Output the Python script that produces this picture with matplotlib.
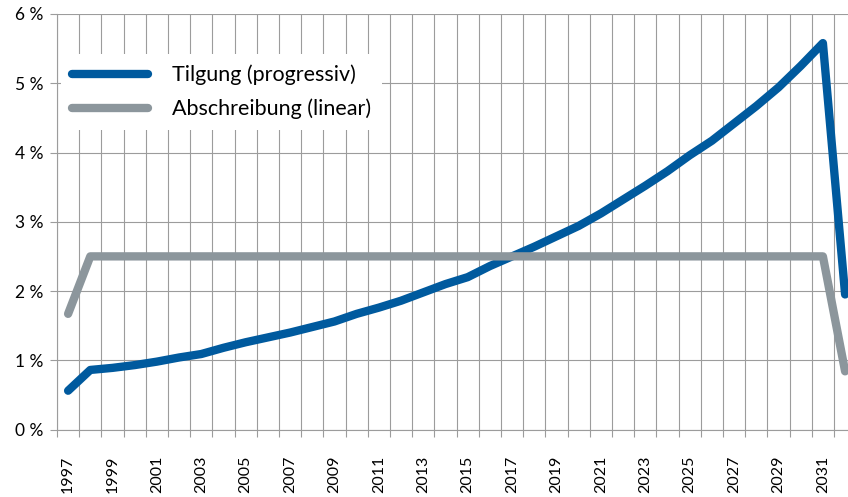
import numpy as np
import matplotlib
matplotlib.use("Agg")
import matplotlib.pyplot as plt

plt.rcParams['font.family'] = ['Lato', 'DejaVu Sans']

# data (percent of loan)
years = list(range(1997, 2033))
tilgung = [0.56, 0.86, 0.89, 0.93, 0.98, 1.04, 1.09, 1.18, 1.26, 1.33,
           1.40, 1.48, 1.56, 1.67, 1.76, 1.86, 1.98, 2.10, 2.20, 2.36,
           2.50, 2.64, 2.79, 2.94, 3.12, 3.32, 3.52, 3.73, 3.96, 4.17,
           4.42, 4.67, 4.94, 5.25, 5.58, 1.95]
abschreibung = [1.67] + [2.5] * 34 + [0.84]
y_ticks = [0, 1, 2, 3, 4, 5, 6]
labels = ["Tilgung (progressiv)", "Abschreibung (linear)"]

BLUE = "#005a9e"
GREY = "#8c969c"
GRID = "#9c9c9c"

W, H = 848, 497
fig = plt.figure(figsize=(W / 100, H / 100), dpi=100)
# axes runs a bit past the right edge, like the cropped original
ax = fig.add_axes([57 / W, 67.5 / H, 799.2 / W, 415.5 / H])

ax.plot(years, tilgung, color=BLUE, lw=6, solid_capstyle='round',
        solid_joinstyle='round', label=labels[0], zorder=3)
ax.plot(years, abschreibung, color=GREY, lw=6, solid_capstyle='round',
        solid_joinstyle='round', label=labels[1], zorder=4)

ax.set_xlim(years[0] - 0.5, years[-1] + 0.5)
ax.set_ylim(0, 6)

# category boundaries -> gridlines and tick marks, labels in the middle
bounds = [y - 0.5 for y in years] + [years[-1] + 0.5]
ax.set_xticks(bounds, minor=True)
ax.set_xticks(years[::2])
ax.set_xticklabels([str(y) for y in years[::2]], rotation=90, fontsize=11.5)
ax.tick_params(axis='x', which='major', length=0, pad=19)
ax.tick_params(axis='x', which='minor', length=5, width=0.8, color=GRID)

ax.set_yticks(y_ticks)
ax.set_yticklabels([f"{v} %" for v in y_ticks], fontsize=12.5)
ax.tick_params(axis='y', length=5, width=0.8, color=GRID, pad=5)

ax.grid(which='minor', axis='x', color=GRID, lw=0.8)
ax.grid(which='major', axis='y', color=GRID, lw=0.8)
ax.grid(which='major', axis='x', visible=False)
ax.set_axisbelow(True)

for s in ['top', 'right']:
    ax.spines[s].set_visible(False)
for s in ['left', 'bottom']:
    ax.spines[s].set_color(GRID)
    ax.spines[s].set_linewidth(0.8)

leg = ax.legend(loc='upper left', bbox_to_anchor=(61.2 / W, 1 - 54 / H),
                bbox_transform=fig.transFigure, borderaxespad=0,
                frameon=True, fancybox=False, edgecolor='none',
                facecolor='white', framealpha=1, fontsize=15.5,
                handlelength=3.53, handletextpad=1.12, borderpad=0.5,
                labelspacing=0.62)
leg.set_zorder(5)

fig.savefig("out.png", dpi=100)
